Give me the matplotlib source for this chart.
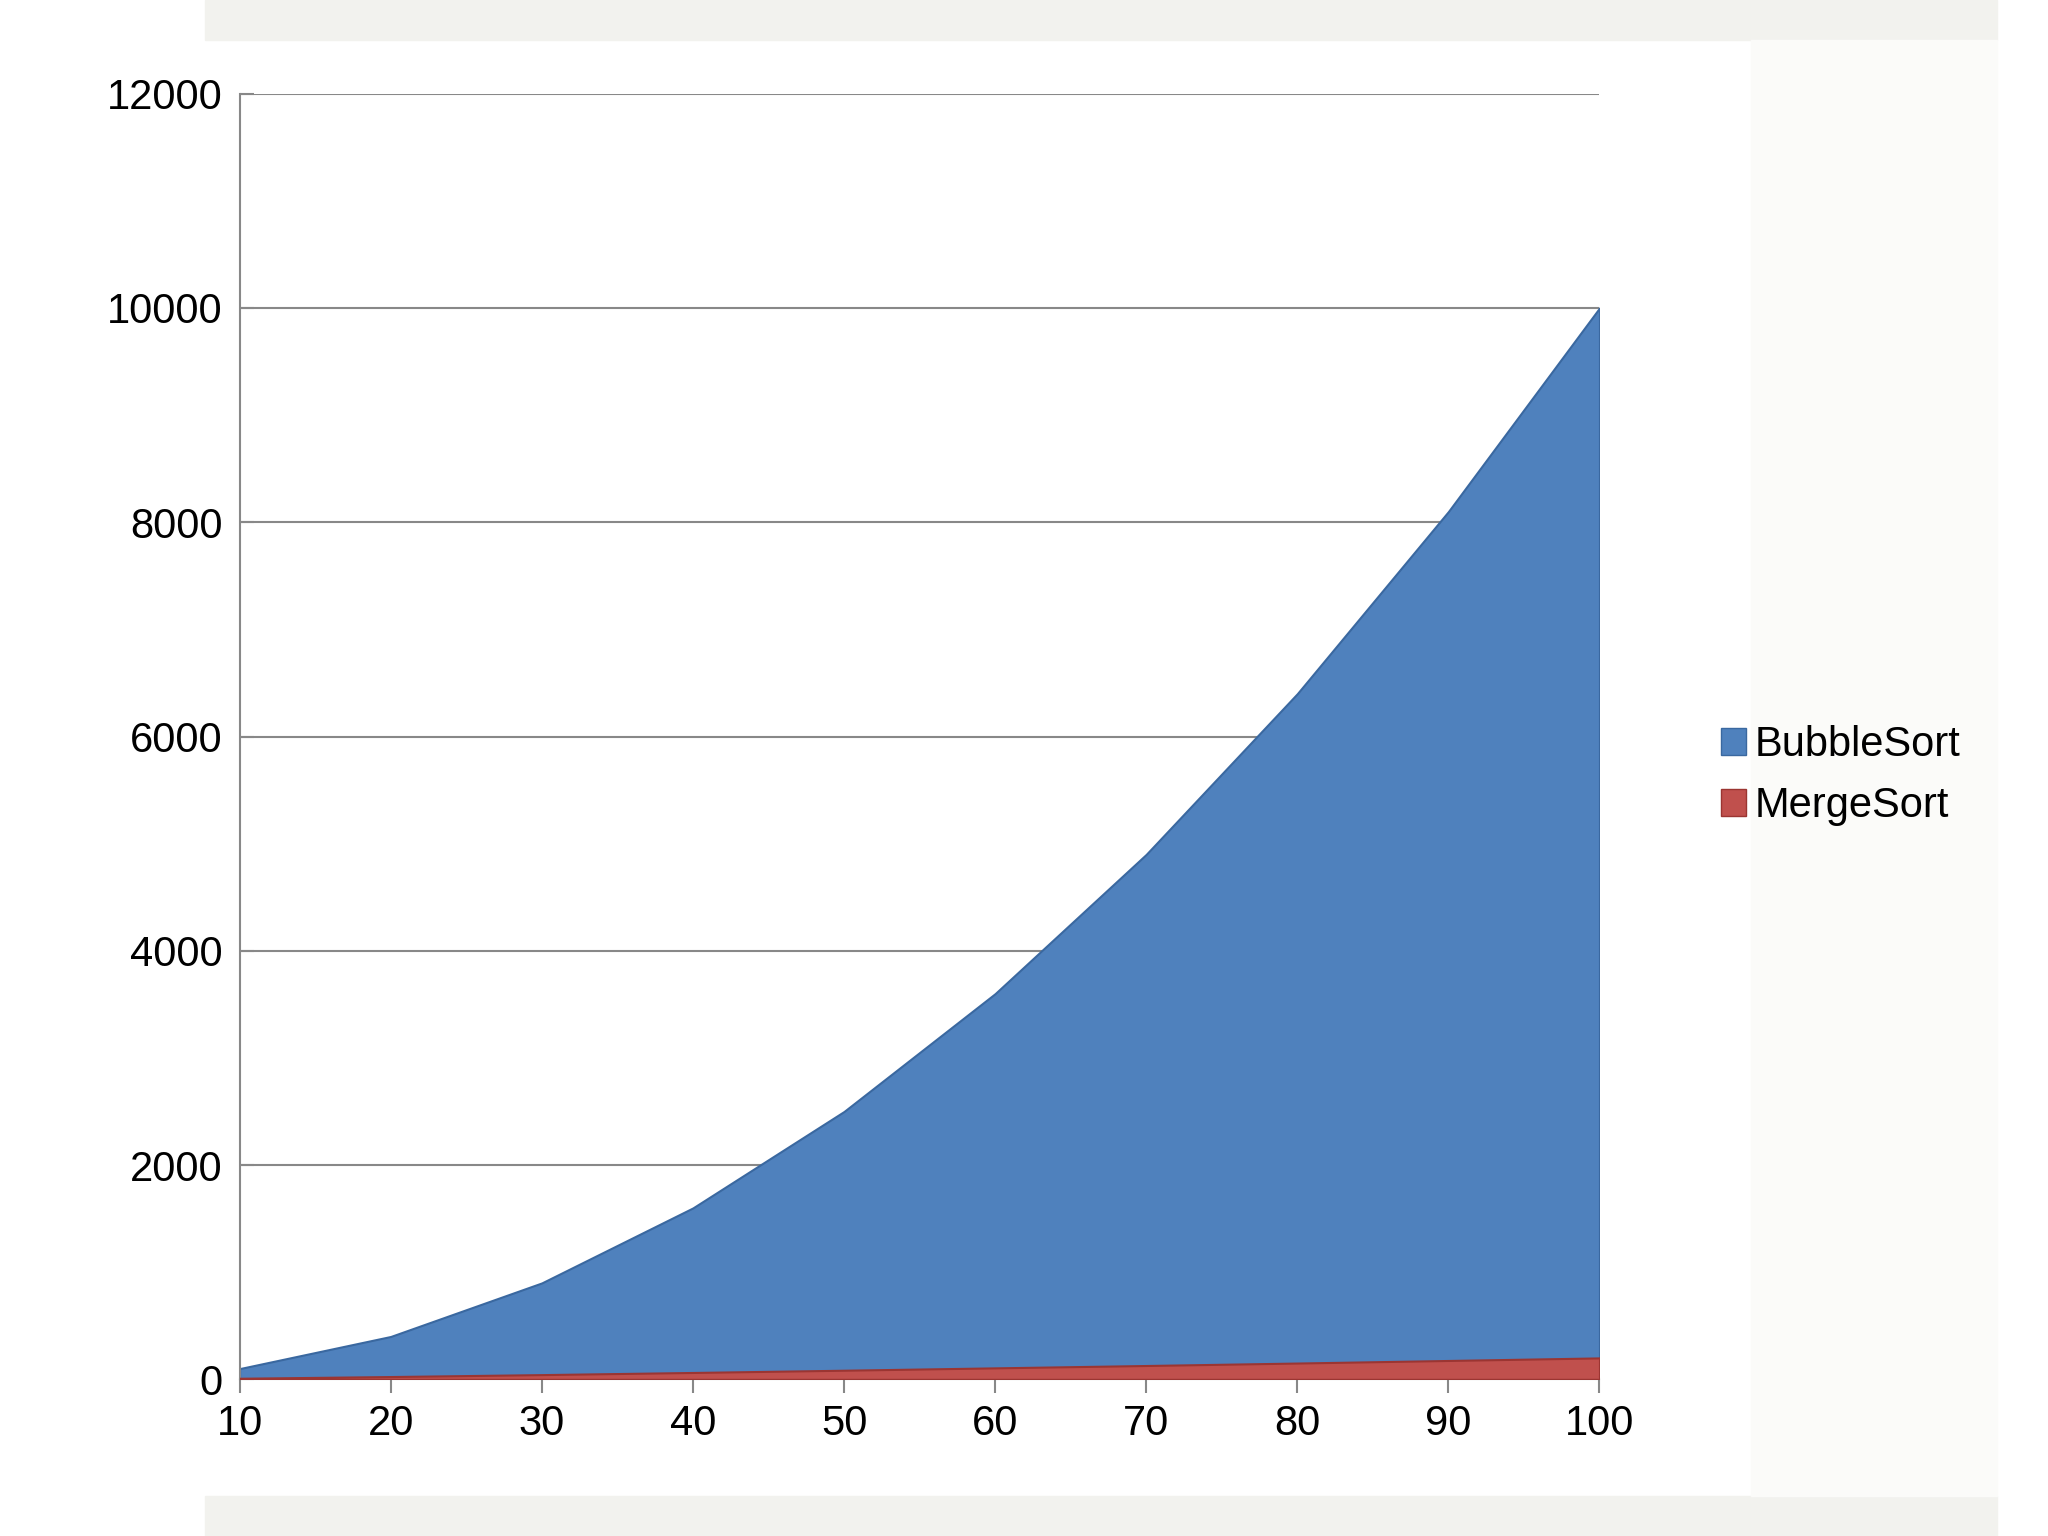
import matplotlib
matplotlib.use("Agg")
import matplotlib.pyplot as plt
from matplotlib.patches import Rectangle, Patch

n = [10, 20, 30, 40, 50, 60, 70, 80, 90, 100]
bubble = [100, 400, 900, 1600, 2500, 3600, 4900, 6400, 8100, 10000]
merge = [10, 26, 44, 64, 85, 107, 129, 152, 176, 200]
yticks = [0, 2000, 4000, 6000, 8000, 10000, 12000]

plt.rcParams['font.family'] = ['Liberation Sans', 'DejaVu Sans']
fig = plt.figure(figsize=(20.48, 15.36), dpi=100)
fig.patches.append(Rectangle((0.1, 0.974), 0.875, 0.026, transform=fig.transFigure, color='#f2f2ee', zorder=-5))
fig.patches.append(Rectangle((0.1, 0.0), 0.875, 0.026, transform=fig.transFigure, color='#f2f2ee', zorder=-5))
fig.patches.append(Rectangle((0.855, 0.026), 0.12, 0.948, transform=fig.transFigure, color='#fbfbf9', zorder=-5))

ax = fig.add_axes([0.117, 0.102, 0.664, 0.837])
ax.fill_between(n, 0, bubble, color='#4f81bd', edgecolor='#3a68a0', lw=1.5, zorder=2)
ax.fill_between(n, 0, merge, color='#c0504d', edgecolor='#9b3532', lw=1.5, zorder=3)
ax.set_xlim(10, 100)
ax.set_ylim(0, 12000)
ax.set_xticks(n)
ax.set_yticks(yticks)
ax.grid(axis='y', color='#888888', lw=1.5, zorder=1)
ax.set_axisbelow(True)
for s in ['top', 'right']:
    ax.spines[s].set_visible(False)
for s in ['left', 'bottom']:
    ax.spines[s].set_color('#888888')
    ax.spines[s].set_linewidth(1.5)
ax.tick_params(axis='both', labelsize=30, color='#888888', width=1.5)
ax.tick_params(axis='x', length=10, direction='out', pad=8)
ax.tick_params(axis='y', length=10, direction='in', pad=12)

handles = [Patch(facecolor='#4f81bd', edgecolor='#3a68a0', label='BubbleSort'),
           Patch(facecolor='#c0504d', edgecolor='#9b3532', label='MergeSort')]
fig.legend(handles=handles, loc='center left', bbox_to_anchor=(0.822, 0.495), frameon=False,
           fontsize=30, handlelength=0.6, handleheight=0.6, handletextpad=0.2, labelspacing=0.5)
fig.savefig('out.png', dpi=100, facecolor='white')
